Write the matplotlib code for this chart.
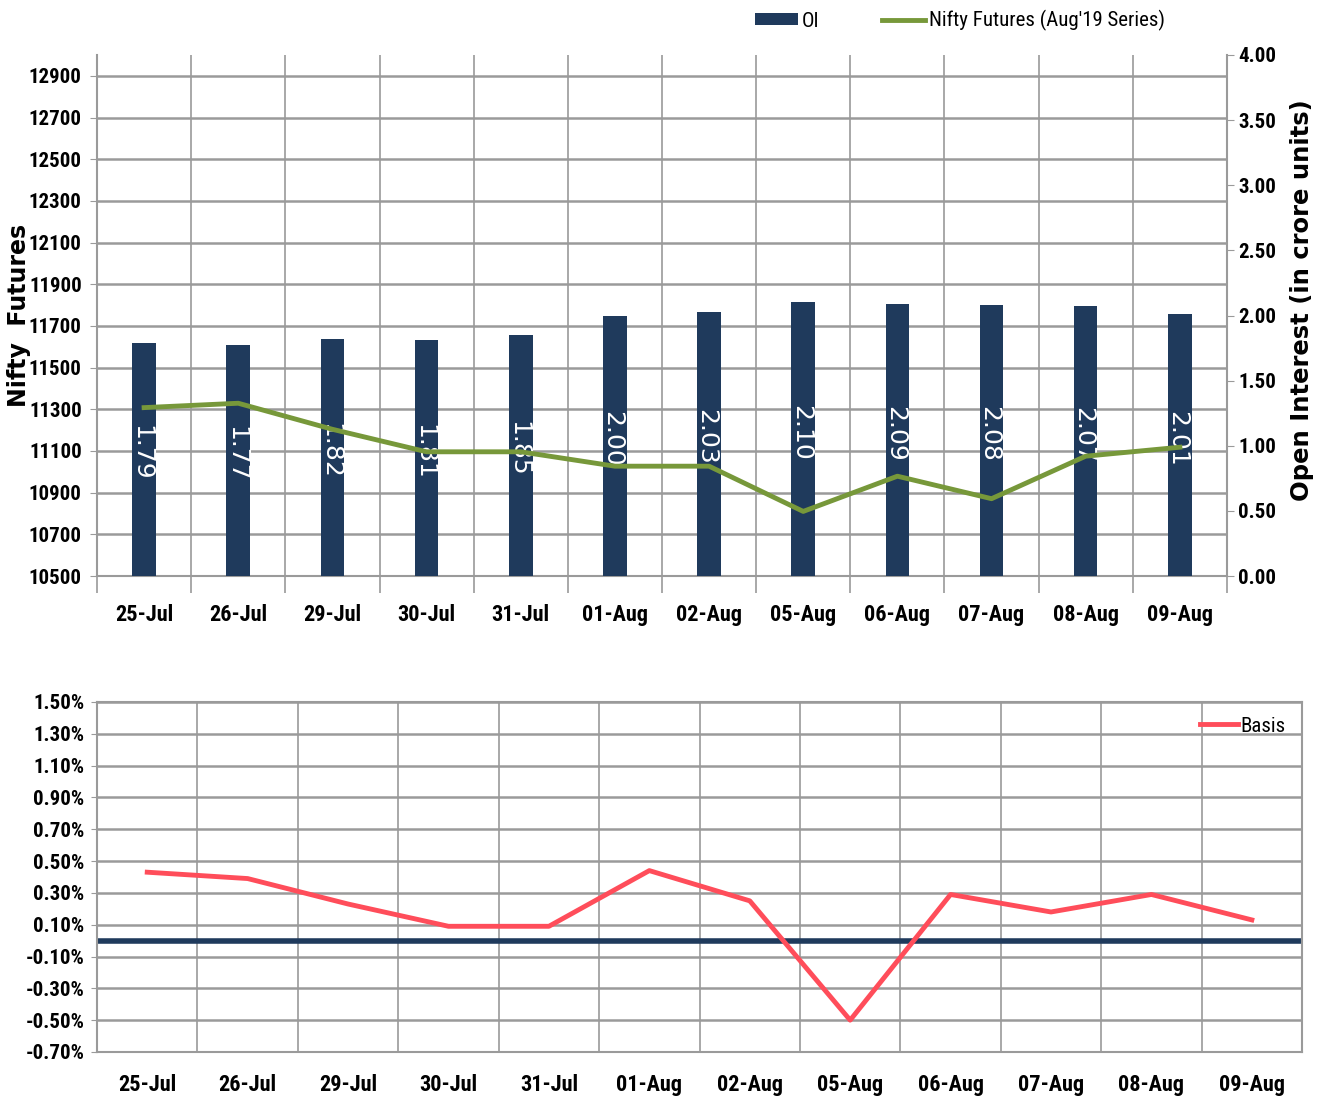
import matplotlib
matplotlib.use('Agg')
import matplotlib.pyplot as plt
from matplotlib import font_manager as fm
import numpy as np
from matplotlib.ticker import FuncFormatter

# data
dates = ['25-Jul', '26-Jul', '29-Jul', '30-Jul', '31-Jul', '01-Aug',
         '02-Aug', '05-Aug', '06-Aug', '07-Aug', '08-Aug', '09-Aug']
oi = [1.79, 1.77, 1.82, 1.81, 1.85, 2.00, 2.03, 2.10, 2.09, 2.08, 2.07, 2.01]
nifty = [11308, 11329, 11204, 11096, 11096, 11027, 11027, 10810, 10979, 10871, 11075, 11118]
basis = [0.43, 0.39, 0.23, 0.09, 0.09, 0.44, 0.25, -0.50, 0.29, 0.18, 0.29, 0.13]

NAVY = '#1f3a5c'
GREEN = '#77983a'
RED = '#ff4d5a'
GRID = '#9a9a9a'

# pick a narrow font if one is there
have = {f.name for f in fm.fontManager.ttflist}
cond = [f.name for f in fm.fontManager.ttflist if f.stretch in ('condensed', 'semi-condensed', 'extra-condensed')]
narrow = None
for n in ['Liberation Sans Narrow', 'DejaVu Sans Condensed', 'Arial Narrow', 'Roboto Condensed']:
    if n in have:
        narrow = n
        break
if narrow is None and cond:
    narrow = cond[0]
if narrow is None:
    narrow = 'Liberation Sans'
NARROW = [narrow, 'DejaVu Sans']
BOLDF = ['DejaVu Sans']
stretch = 'condensed' if narrow in cond else 'normal'

plt.rcParams['font.family'] = NARROW
plt.rcParams['font.stretch'] = stretch
plt.rcParams['font.weight'] = 'bold'
TS = 15

fig = plt.figure(figsize=(13.2, 11.02), dpi=100)
x = np.arange(len(dates))

# ---- top chart: OI bars + Nifty futures line
ax = fig.add_axes([0.0735, 0.4773, 0.856, 0.4728])
ax.set_xlim(-0.5, 11.5)
ax.set_ylim(10500, 13000)
ax.set_yticks(np.arange(10500, 12901, 200))
ax.set_xticks(x)
ax.set_xticklabels(dates)
ax.set_xticks(np.arange(-0.5, 12, 1), minor=True)
ax.grid(axis='y', which='major', color=GRID, lw=1.8)
ax.grid(axis='x', which='minor', color=GRID, lw=1.2)
ax.tick_params(axis='x', which='major', length=0, pad=20, labelsize=TS + 1)
ax.tick_params(axis='x', which='minor', length=12, color=GRID, width=1.2)
ax.tick_params(axis='y', length=5, color=GRID, labelsize=TS, pad=6)
for s in ['top', 'right']:
    ax.spines[s].set_visible(False)
for s in ['left', 'bottom']:
    ax.spines[s].set_color(GRID)
    ax.spines[s].set_linewidth(1.5)
ax.set_ylabel('Nifty  Futures', family=BOLDF, fontweight='bold', fontsize=17,
              fontstretch='normal')
ax.yaxis.set_label_coords(-0.058, 0.5)

ax2 = ax.twinx()
bars = ax2.bar(x, oi, width=0.25, color=NAVY)
ax2.set_ylim(0, 4)
ax2.set_yticks(np.arange(0, 4.01, 0.5))
ax2.yaxis.set_major_formatter(FuncFormatter(lambda v, p: f'{v:.2f}'))
ax2.tick_params(axis='y', length=5, color=GRID, labelsize=TS, pad=3)
for s in ['top', 'left', 'bottom']:
    ax2.spines[s].set_visible(False)
ax2.spines['right'].set_color(GRID)
ax2.spines['right'].set_linewidth(1.5)
for xi, v in zip(x, oi):
    ax2.text(xi, v / 2 + 0.05, f'{v:.2f}', rotation=270, rotation_mode='anchor',
             ha='center', va='center_baseline', color='white', fontsize=18,
             family=BOLDF, fontweight='normal', fontstretch='normal')
ax2.set_ylabel('Open Interest (in crore units)', family=BOLDF, fontweight='bold',
               fontsize=17.5, fontstretch='normal')
ax2.yaxis.set_label_coords(1.056, 0.53)

ax3 = ax.twinx()
ax3.set_ylim(ax.get_ylim())
line, = ax3.plot(x, nifty, color=GREEN, lw=3.5)
ax3.axis('off')

fig.legend([bars, line], ['OI', "Nifty Futures (Aug'19 Series)"], loc='center',
           bbox_to_anchor=(0.727, 0.981), ncol=2, frameon=False,
           prop={'size': 15, 'weight': 'normal'},
           handlelength=2.1, handleheight=0.5, columnspacing=3.0, handletextpad=0.15)

# ---- bottom chart: basis
ax4 = fig.add_axes([0.0735, 0.0454, 0.9129, 0.3176])
ax4.set_xlim(-0.5, 11.5)
ax4.set_ylim(-0.7, 1.5)
ax4.set_yticks(np.arange(-0.7, 1.51, 0.2))
ax4.yaxis.set_major_formatter(FuncFormatter(lambda v, p: f'{v:.2f}%'))
ax4.set_xticks(x)
ax4.set_xticklabels(dates)
ax4.set_xticks(np.arange(-0.5, 12, 1), minor=True)
ax4.grid(axis='y', which='major', color=GRID, lw=1.8)
ax4.grid(axis='x', which='minor', color=GRID, lw=1.2)
ax4.tick_params(axis='x', which='major', length=0, pad=16, labelsize=TS + 1)
ax4.tick_params(axis='x', which='minor', length=0)
ax4.tick_params(axis='y', length=4, color=GRID, labelsize=TS, pad=5)
for s in ax4.spines.values():
    s.set_color(GRID)
    s.set_linewidth(1.5)
ax4.axhline(0, color=NAVY, lw=4, zorder=2)
ax4.plot(x, basis, color=RED, lw=3.5, label='Basis', zorder=3)
ax4.legend(loc='upper right', bbox_to_anchor=(0.998, 1.0), frameon=False,
           prop={'size': 15, 'weight': 'normal'},
           handlelength=1.8, handletextpad=0.1, borderpad=0.2)

fig.savefig('out.png', dpi=100)
